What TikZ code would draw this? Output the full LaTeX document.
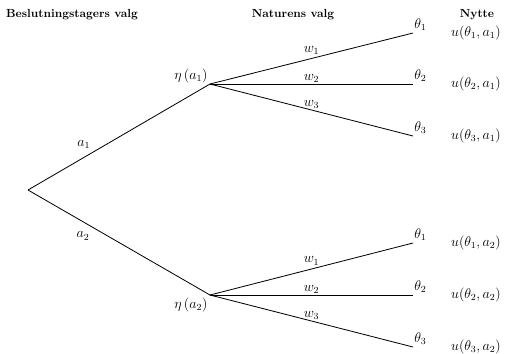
\documentclass[tikz,border=0pt]{standalone}
\usepackage{xcolor}
\usepackage{tikz}
\usetikzlibrary{positioning}

\begin{document}
\begin{tikzpicture}[
    x=0.03cm, y=-0.03cm,
    branch/.style={line width=0.7pt},
    head/.style={font=\bfseries},
    lab/.style={inner sep=1pt, font=\large},
    ulab/.style={anchor=west, inner sep=0pt, font=\large},
]
    \useasboundingbox (0,0) rectangle (506,353);

    % headings
    \node[head] (hdec) at (72,15) {Beslutningstagers valg};
    \node[head] (hnat) at (293,15) {Naturens valg};
    \node[head] (hutil) at (477,15) {Nytte};

    % tree points
    \coordinate (root) at (28,190);
    \coordinate (n1) at (210,84);
    \coordinate (n2) at (210,295);
    \coordinate (t11) at (413,33);
    \coordinate (t12) at (413,84);
    \coordinate (t13) at (413,136);
    \coordinate (t21) at (413,243);
    \coordinate (t22) at (413,295);
    \coordinate (t23) at (413,347);

    % decision branches
    \draw[branch] (root) -- node[lab, pos=0.36, above left=2pt] {$a_1$} (n1);
    \draw[branch] (root) -- node[lab, pos=0.36, below left=3pt] {$a_2$} (n2);
    \node[lab, above left=0pt and 1pt of n1] (eta1) {$\eta\,(a_1)$};
    \node[lab, below left=1pt and 1pt of n2] (eta2) {$\eta\,(a_2)$};

    % nature branches
    \draw[branch] (n1) -- node[lab, pos=0.5, above=2pt] {$w_1$} (t11);
    \draw[branch] (n1) -- node[lab, pos=0.5, above] {$w_2$} (t12);
    \draw[branch] (n1) -- node[lab, pos=0.5, above] {$w_3$} (t13);
    \draw[branch] (n2) -- node[lab, pos=0.5, above=2pt] {$w_1$} (t21);
    \draw[branch] (n2) -- node[lab, pos=0.5, above] {$w_2$} (t22);
    \draw[branch] (n2) -- node[lab, pos=0.5, above] {$w_3$} (t23);

    % outcomes
    \node[lab, above right=1pt and 0pt of t11] (th11) {$\theta_1$};
    \node[lab, above right=1pt and 0pt of t12] (th12) {$\theta_2$};
    \node[lab, above right=1pt and 0pt of t13] (th13) {$\theta_3$};
    \node[lab, above right=1pt and 0pt of t21] (th21) {$\theta_1$};
    \node[lab, above right=1pt and 0pt of t22] (th22) {$\theta_2$};
    \node[lab, above right=1pt and 0pt of t23] (th23) {$\theta_3$};

    % utilities
    \node[ulab, right=1.14cm of t11] (u11) {$u(\theta_1, a_1)$};
    \node[ulab, right=1.14cm of t12] (u12) {$u(\theta_2, a_1)$};
    \node[ulab, right=1.14cm of t13] (u13) {$u(\theta_3, a_1)$};
    \node[ulab, right=1.14cm of t21] (u21) {$u(\theta_1, a_2)$};
    \node[ulab, right=1.14cm of t22] (u22) {$u(\theta_2, a_2)$};
    \node[ulab, right=1.14cm of t23] (u23) {$u(\theta_3, a_2)$};
\end{tikzpicture}
\end{document}
